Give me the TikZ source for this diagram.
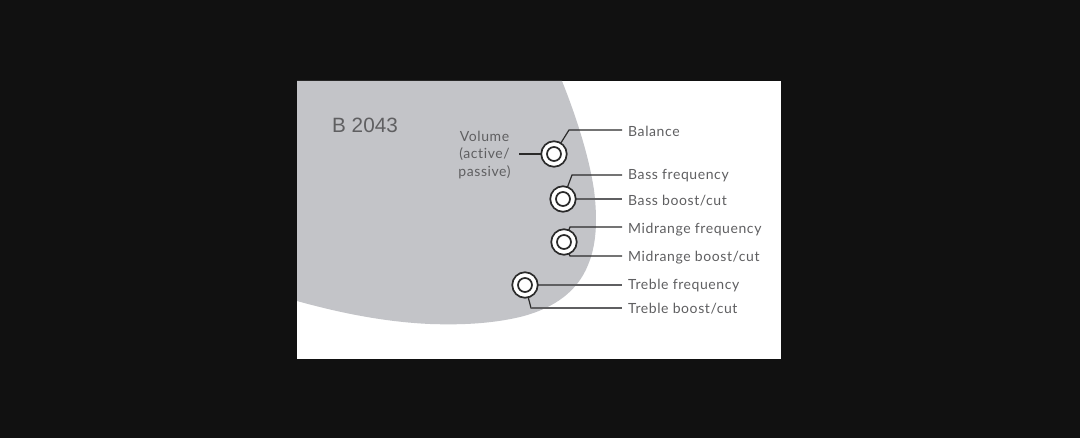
\documentclass[tikz,border=0pt]{standalone}
\usepackage{fontspec}
\setmainfont{Lato}[LetterSpace=4.2,Ligatures=NoCommon]
\newfontfamily\modelfont{Liberation Sans}
\definecolor{bgdark}{HTML}{111111}
\definecolor{body}{HTML}{C3C4C8}
\definecolor{ink}{HTML}{5F5F61}
\definecolor{wire}{HTML}{2A2A2A}
\tikzset{
  lab/.style={anchor=west,inner sep=0pt,text=ink,font=\fontsize{14}{16}\selectfont},
  knobouter/.style={circle,draw=wire,line width=1.7pt,fill=white,minimum size=25.5pt,inner sep=0pt},
  knobinner/.style={circle,draw=wire,line width=1.7pt,fill=white,minimum size=14pt,inner sep=0pt},
  wirel/.style={draw=wire,line width=1.2pt},
  wireg/.style={draw=ink,line width=1.6pt},
}
\begin{document}
\begin{tikzpicture}[x=1pt,y=-1pt]
\useasboundingbox (0,0) rectangle (1080,438);
\fill[bgdark] (0,0) rectangle (1080,438);
\fill[white] (297,81) rectangle (781,359);
\fill[body] (297,81) -- (562,81)
  .. controls (572,106) and (588,150) .. (594,190)
  .. controls (598,222) and (596,246) .. (588,265)
  .. controls (578,290) and (556,308) .. (520,317)
  .. controls (490,324) and (460,325) .. (430,324)
  .. controls (385,322) and (340,313) .. (297,301) -- cycle;
\node[anchor=west,inner sep=0pt,text=ink,font=\modelfont\fontsize{20.7}{24}\selectfont] (model) at (332,125) {B 2043};
\node[align=center,inner sep=0pt,text=ink,font=\fontsize{14}{17.5}\selectfont] (vol) at (484.5,155) {Volume\\(active/\\passive)};
\node[lab] (bal) at (628,131.5) {Balance};
\node[lab] (bf) at (628,176) {Bass frequency};
\node[lab] (bb) at (628,201) {Bass boost/cut};
\node[lab] (mf) at (628,229.5) {Midrange frequency};
\node[lab] (mb) at (628,257.5) {Midrange boost/cut};
\node[lab] (tf) at (628,286) {Treble frequency};
\node[lab] (tb) at (628,309) {Treble boost/cut};
\coordinate (volend) at (519,154);
\coordinate (k1) at (554,154);
\coordinate (k2) at (563,199);
\coordinate (k3) at (564,242);
\coordinate (k4) at (525,285);
\coordinate (ebal) at (622,130);
\coordinate (ebf) at (622,175);
\coordinate (ebb) at (622,199);
\coordinate (emf) at (622,227);
\coordinate (emb) at (622,256);
\coordinate (etf) at (622,285);
\coordinate (etb) at (622,308);
\draw[wirel] (ebal) -- (569,130) -- (k1);
\draw[wirel] (volend) -- (k1);
\draw[wirel] (ebf) -- (572,175) -- (k2);
\draw[wireg] (k2) -- (ebb);
\draw[wirel] (emf) -- (570,227) -- (k3);
\draw[wirel] (emb) -- (570,256) -- (k3);
\draw[wireg,line width=1.3pt] (k4) -- (etf);
\draw[wirel] (k4) -- (531,308) -- (560,308);
\draw[wireg] (531,308) -- (etb);
\foreach \k/\n in {k1/a,k2/b,k3/c,k4/d}{
  \node[knobouter] (out\n) at (\k) {};
  \node[knobinner] (in\n) at (\k) {};
}
\end{tikzpicture}
\end{document}
